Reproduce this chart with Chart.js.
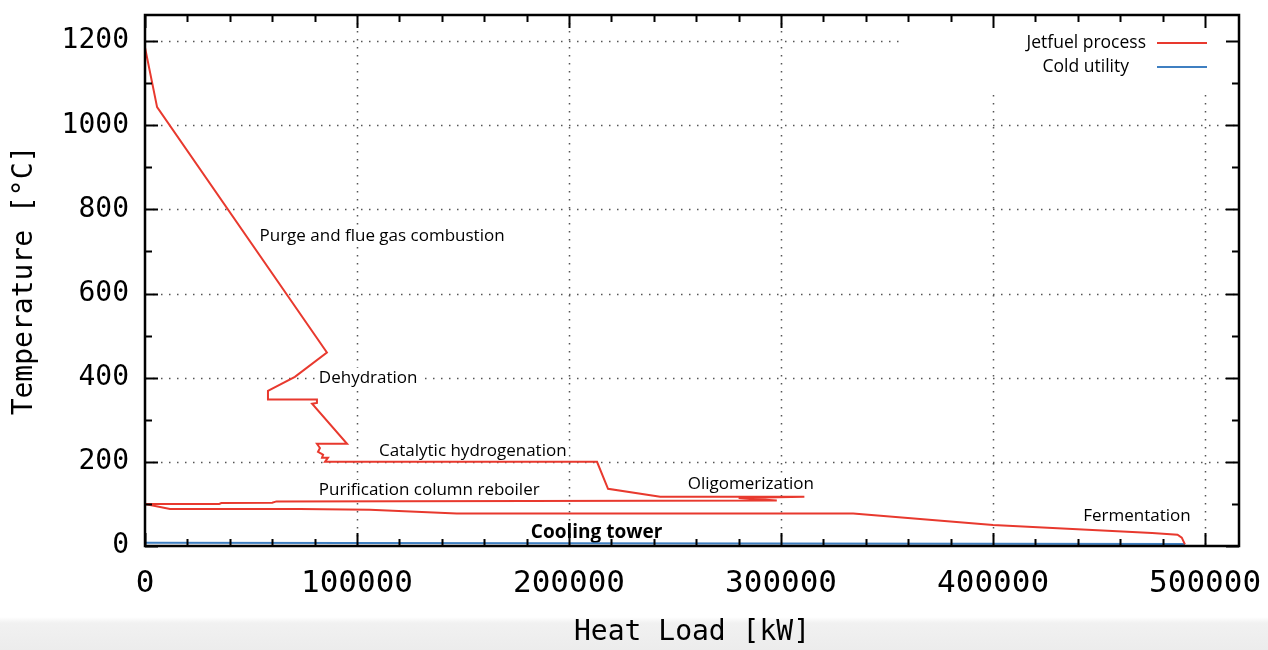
<!DOCTYPE html>
<html>
<head>
<meta charset="utf-8">
<script src="https://cdn.jsdelivr.net/npm/chart.js@4.4.1/dist/chart.umd.min.js"></script>
<style>
  html, body { margin: 0; padding: 0; }
  body {
    width: 1268px; height: 650px; overflow: hidden;
    background: linear-gradient(to bottom, #ffffff 0px, #ffffff 617px, #f1f1f1 623px, #ececec 650px);
  }
</style>
</head>
<body>
<canvas id="heatChart" width="1268" height="650"></canvas>
<script>
// Jetfuel process composite curve (heat load kW, temperature degC)
var jetLoad = [0, 5700, 85800, 70700, 58000, 58000, 78800, 81100, 81100, 78800,
  95300, 81100, 82500, 81600, 84000, 83500, 86300, 84900, 213200, 218400,
  243000, 311000, 280000, 298000, 62000, 60000, 36000, 35000, 0, 11800,
  73000, 106000, 147000, 334000, 400000, 475000, 487000, 489000, 490500];
var jetTemp = [1185, 1043, 460, 402, 369, 348, 348, 348, 340, 338,
  243, 243, 233, 224, 217, 210, 210, 200, 200, 136,
  117, 117, 114, 108, 106, 103, 102, 100, 100, 88,
  88, 86, 77, 77, 50, 31, 27, 20, 4];

// Cold utility (cooling tower)
var coldLoad = [0, 490500];
var coldTemp = [8, 5];

var xTicks = [0, 100000, 200000, 300000, 400000, 500000];
var yTicks = [0, 200, 400, 600, 800, 1000, 1200];

var notes = [
  { text: 'Purge and flue gas combustion', x: 54000, y: 736 },
  { text: 'Dehydration', x: 82000, y: 400 },
  { text: 'Catalytic hydrogenation', x: 110400, y: 226 },
  { text: 'Purification column reboiler', x: 82000, y: 133 },
  { text: 'Oligomerization', x: 256000, y: 148 },
  { text: 'Fermentation', x: 442500, y: 71 },
  { text: 'Cooling tower', x: 182000, y: 31, bold: true }
];

var RED = '#e8392e';
var BLUE = '#3f7fc1';
var MONO = '"DejaVu Sans Mono", monospace';
var SANS = '"Open Sans", sans-serif';

function pts(xs, ys) {
  return xs.map(function (x, i) { return { x: x, y: ys[i] }; });
}

var framePlugin = {
  id: 'frame',
  beforeDatasetsDraw: function (chart) {
    var c = chart.ctx, a = chart.chartArea;
    var xs = chart.scales.x, ys = chart.scales.y;
    c.save();
    // dotted grid
    c.strokeStyle = '#555';
    c.lineWidth = 1.5;
    c.setLineDash([1.5, 6.5]);
    xTicks.forEach(function (v) {
      if (v === 0) return;
      var px = Math.round(xs.getPixelForValue(v)) + 0.5;
      c.beginPath(); c.moveTo(px, a.top); c.lineTo(px, a.bottom); c.stroke();
    });
    yTicks.forEach(function (v) {
      if (v === 0) return;
      var py = Math.round(ys.getPixelForValue(v)) + 0.5;
      c.beginPath(); c.moveTo(a.left, py); c.lineTo(a.right, py); c.stroke();
    });
    c.setLineDash([]);
    // legend box
    c.fillStyle = '#fff';
    c.fillRect(a.right - 338, a.top, 338, 75);
    // notes
    c.textBaseline = 'middle';
    c.textAlign = 'left';
    notes.forEach(function (n) {
      c.font = (n.bold ? 'bold 19px ' : '17px ') + SANS;
      var px = xs.getPixelForValue(n.x), py = ys.getPixelForValue(n.y);
      var w = c.measureText(n.text).width;
      c.fillStyle = '#fff';
      c.fillRect(px - 2, py - 10, w + 4, 20);
      c.fillStyle = '#000';
      c.fillText(n.text, px, py);
    });
    c.restore();
  },
  afterDatasetsDraw: function (chart) {
    var c = chart.ctx, a = chart.chartArea;
    var xs = chart.scales.x, ys = chart.scales.y;
    c.save();
    c.strokeStyle = '#000';
    c.lineWidth = 2;
    var v, px, py, len;
    for (v = 0; v <= xs.max; v += 20000) {
      px = Math.round(xs.getPixelForValue(v)) + 0.5;
      len = v % 100000 === 0 ? 13 : 7;
      c.beginPath();
      c.moveTo(px, a.bottom); c.lineTo(px, a.bottom - len);
      c.moveTo(px, a.top); c.lineTo(px, a.top + len);
      c.stroke();
    }
    for (v = 0; v <= ys.max; v += 100) {
      py = Math.round(ys.getPixelForValue(v)) + 0.5;
      len = v % 200 === 0 ? 13 : 7;
      c.beginPath();
      c.moveTo(a.left, py); c.lineTo(a.left + len, py);
      c.moveTo(a.right, py); c.lineTo(a.right - len, py);
      c.stroke();
    }
    c.lineWidth = 2.5;
    c.strokeRect(a.left, a.top, a.right - a.left, a.bottom - a.top);
    // legend
    c.font = '17.5px ' + SANS;
    c.textBaseline = 'middle';
    c.textAlign = 'right';
    c.fillStyle = '#000';
    c.fillText('Jetfuel process', a.right - 93, a.top + 28);
    c.fillText('Cold utility', a.right - 110, a.top + 52);
    c.lineWidth = 2;
    c.strokeStyle = RED;
    c.beginPath(); c.moveTo(a.right - 82, a.top + 28); c.lineTo(a.right - 32, a.top + 28); c.stroke();
    c.strokeStyle = BLUE;
    c.beginPath(); c.moveTo(a.right - 82, a.top + 52); c.lineTo(a.right - 32, a.top + 52); c.stroke();
    c.restore();
  }
};

var ctx = document.getElementById('heatChart').getContext('2d');
var heatChart = new Chart(ctx, {
  type: 'scatter',
  data: {
    datasets: [{
      label: 'Jetfuel process',
      data: pts(jetLoad, jetTemp),
      showLine: true,
      borderColor: RED,
      borderWidth: 2,
      pointRadius: 0,
      tension: 0
    }, {
      label: 'Cold utility',
      data: pts(coldLoad, coldTemp),
      showLine: true,
      borderColor: BLUE,
      borderWidth: 2,
      pointRadius: 0,
      tension: 0
    }]
  },
  options: {
    responsive: false,
    animation: false,
    layout: { padding: { top: 15, right: 29, left: 0, bottom: 0 } },
    plugins: { legend: { display: false }, tooltip: { enabled: false } },
    scales: {
      x: {
        type: 'linear',
        min: 0,
        max: 516000,
        afterBuildTicks: function (s) { s.ticks = xTicks.map(function (v) { return { value: v }; }); },
        afterFit: function (s) { s.height = 104; s.paddingLeft = 0; s.paddingRight = 0; },
        grid: { display: false, drawTicks: false },
        border: { display: false },
        ticks: {
          padding: 19,
          color: '#000',
          maxRotation: 0,
          font: { family: MONO, size: 31 },
          callback: function (v) { return String(v); }
        },
        title: {
          display: true,
          text: 'Heat Load [kW]',
          color: '#000',
          padding: { top: 0, bottom: 0 },
          font: { family: MONO, size: 28 }
        }
      },
      y: {
        type: 'linear',
        min: 0,
        max: 1262,
        afterBuildTicks: function (s) { s.ticks = yTicks.map(function (v) { return { value: v }; }); },
        afterFit: function (s) { s.width = 145; s.paddingTop = 0; s.paddingBottom = 0; },
        grid: { display: false, drawTicks: false },
        border: { display: false },
        ticks: {
          padding: 16,
          color: '#000',
          font: { family: MONO, size: 28 },
          callback: function (v) { return String(v); }
        },
        title: {
          display: true,
          text: 'Temperature [°C]',
          color: '#000',
          padding: { top: 8, bottom: 0 },
          font: { family: MONO, size: 28 }
        }
      }
    }
  },
  plugins: [framePlugin]
});
</script>
</body>
</html>
